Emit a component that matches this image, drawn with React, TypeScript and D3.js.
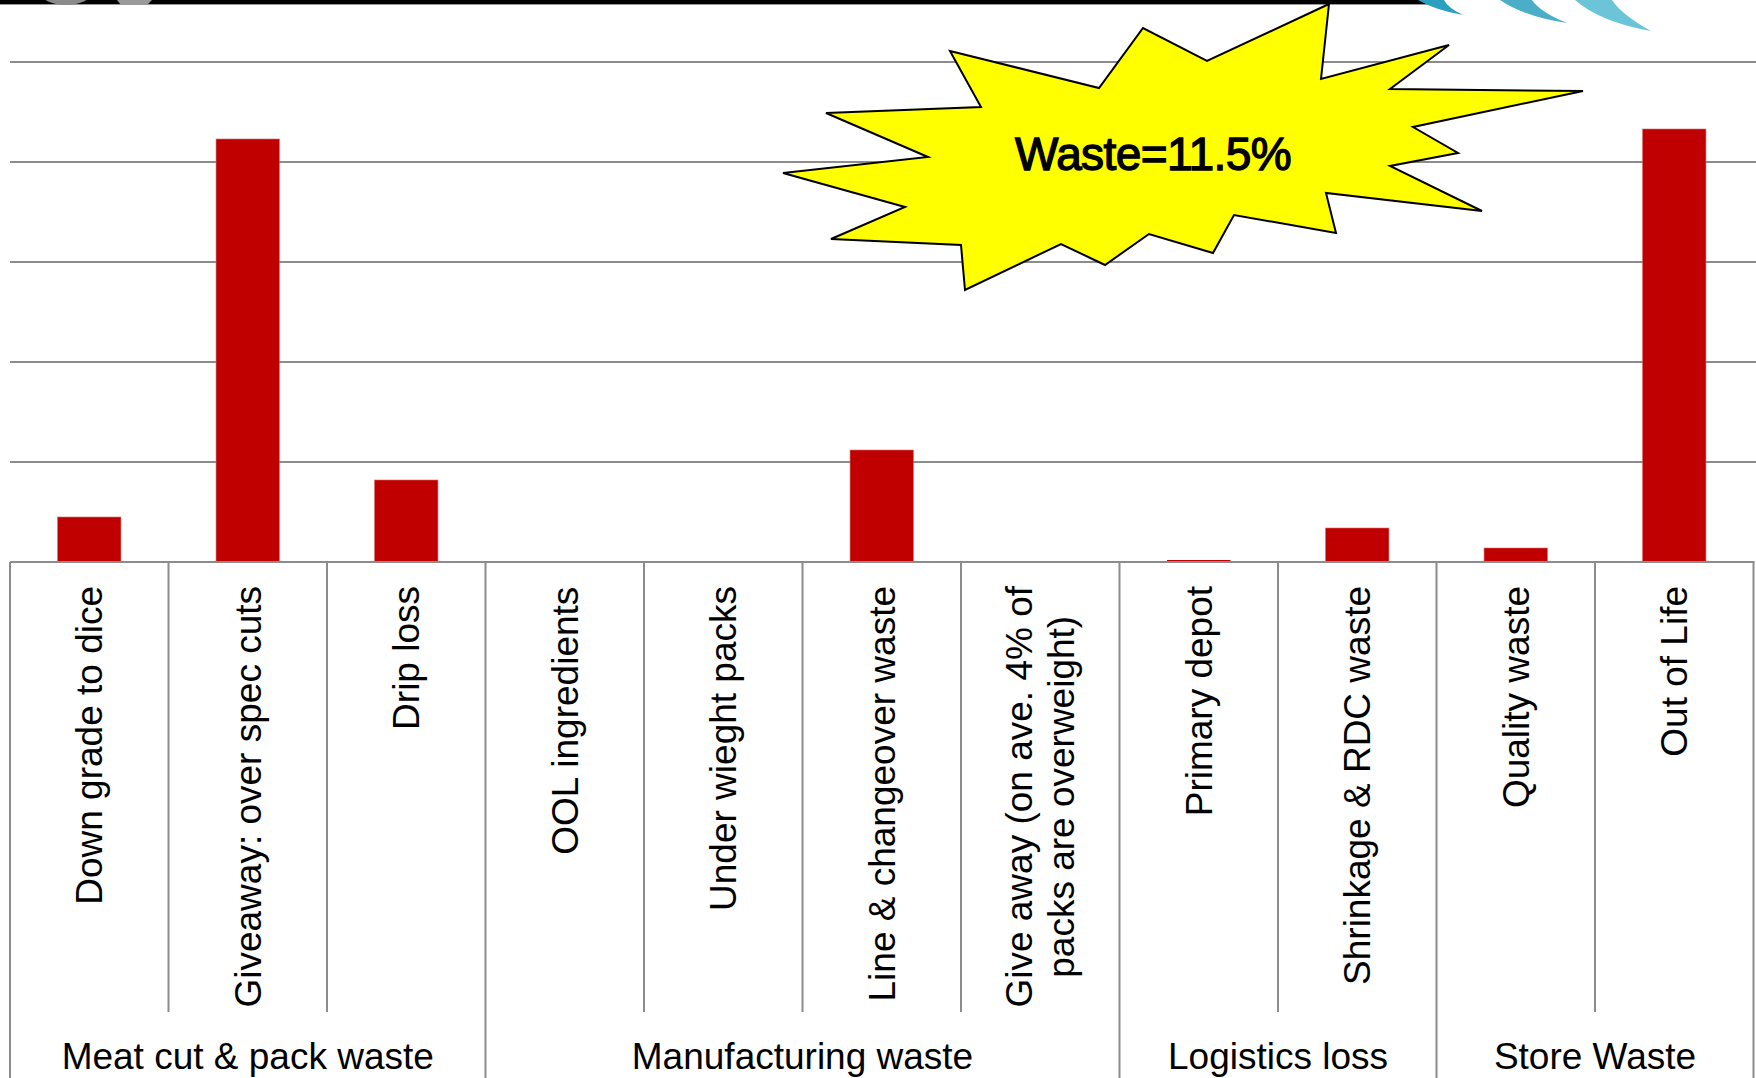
import React, { useMemo } from "react";
import * as d3 from "d3";

// Waste share (% of product) by loss point along the chain
const categories = [
  "Down grade to dice",
  "Giveaway: over spec cuts",
  "Drip loss",
  "OOL ingredients",
  "Under wieght packs",
  "Line & changeover waste",
  "Give away (on ave. 4% of\npacks are overweight)",
  "Primary depot",
  "Shrinkage & RDC waste",
  "Quality waste",
  "Out of Life",
];
const wastePct = [0.45, 4.23, 0.82, 0.01, 0, 1.12, 0, 0.02, 0.34, 0.14, 4.33];

const groupNames = ["Meat cut & pack waste", "Manufacturing waste", "Logistics loss", "Store Waste"];
const groupSizes = [3, 4, 2, 2];

const gridValues = [1, 2, 3, 4, 5];

// Callout burst outline
const burstPoints: [number, number][] = [
  [950, 51], [1099, 88], [1143, 28], [1207, 61], [1329, 4], [1321, 79],
  [1449, 45], [1390, 89], [1583, 91], [1413, 127], [1458, 153], [1390, 166],
  [1482, 211], [1326, 193], [1336, 233], [1234, 215], [1213, 253], [1149, 234],
  [1105, 265], [1061, 244], [965, 290], [961, 245], [831, 239], [905, 207],
  [783, 173], [928, 157], [826, 113], [981, 107],
];

const W = 1756;
const H = 1078;
const FONT = "'Liberation Sans', Arial, sans-serif";
const LABEL_SIZE = 37;

export default function App() {
  const left = 10;
  const right = 1753.5;
  const baseY = 562;

  const x = d3
    .scaleBand<string>()
    .domain(categories)
    .range([left, right])
    .paddingInner(0.6)
    .paddingOuter(0.3);
  const step = (right - left) / categories.length;
  const y = d3.scaleLinear().domain([0, 5]).range([baseY, 62]);

  const total = d3.sum(wastePct);

  const measure = useMemo(() => {
    const ctx = document.createElement("canvas").getContext("2d")!;
    ctx.font = `${LABEL_SIZE}px ${FONT}`;
    return (s: string) => ctx.measureText(s).width;
  }, []);

  // Group boundaries in category index units
  const groupStarts: number[] = [];
  groupSizes.reduce((acc, n) => {
    groupStarts.push(acc);
    return acc + n;
  }, 0);
  const groupBoundaryIdx = new Set<number>([...groupStarts, categories.length]);

  const catCenter = (i: number) => left + step * (i + 0.5);
  const burstPath = d3.line()(burstPoints)! + "Z";

  return (
    <svg
      width={W}
      height={H}
      style={{ position: "absolute", left: 0, top: 0, background: "#fff" }}
      fontFamily={FONT}
    >
      {/* header strip */}
      <rect x={0} y={0} width={1440} height={4} fill="#000" />
      <line x1={0} x2={1440} y1={4.5} y2={4.5} stroke="#999" strokeWidth={1} />
      <ellipse cx={66} cy={-8} rx={26} ry={13} fill="#8a8a8a" />
      <path d="M117,0 L152,0 L147,5 L121,5 Z" fill="#9a9a9a" />
      <path d="M1418,0 Q1435,10 1463,15 Q1448,8 1444,0 Z" fill="#2a9fbf" />
      <path d="M1500,0 Q1525,17 1567,23 Q1540,12 1532,0 Z" fill="#4aaec8" />
      <path d="M1575,0 Q1600,22 1651,31 Q1622,15 1612,0 Z" fill="#6cc4d8" />

      {/* gridlines */}
      {gridValues.map((v) => (
        <line key={v} x1={left} x2={W} y1={y(v)} y2={y(v)} stroke="#8c8c8c" strokeWidth={2} />
      ))}

      {/* bars */}
      {categories.map((c, i) => (
        <rect
          key={c}
          x={x(c)}
          y={y(wastePct[i])}
          width={x.bandwidth()}
          height={baseY - y(wastePct[i])}
          fill="#c00000"
          stroke="#d96a6a"
          strokeWidth={wastePct[i] > 0.05 ? 0.6 : 0}
        />
      ))}

      {/* axis line */}
      <line x1={left} x2={right + 1} y1={baseY} y2={baseY} stroke="#8c8c8c" strokeWidth={2} />

      {/* category separators */}
      {d3.range(categories.length + 1).map((i) => {
        const bx = left + step * i;
        const isGroup = groupBoundaryIdx.has(i);
        return (
          <line
            key={i}
            x1={bx}
            x2={bx}
            y1={baseY}
            y2={isGroup ? H : 1012}
            stroke="#8c8c8c"
            strokeWidth={2}
          />
        );
      })}

      {/* rotated category labels */}
      {categories.map((c, i) => {
        const lines = c.split("\n");
        const maxLen = d3.max(lines, (l) => measure(l)) ?? 0;
        const lh = LABEL_SIZE * 1.15;
        return (
          <text
            key={c}
            transform={`translate(${catCenter(i)},586) rotate(-90)`}
            fontSize={LABEL_SIZE}
            textAnchor="middle"
            fill="#000"
          >
            {lines.map((l, j) => (
              <tspan
                key={j}
                x={-maxLen / 2}
                y={(j - (lines.length - 1) / 2) * lh}
                dy="0.35em"
              >
                {l}
              </tspan>
            ))}
          </text>
        );
      })}

      {/* group labels */}
      {groupNames.map((g, k) => {
        const s = groupStarts[k];
        const cx = left + step * (s + groupSizes[k] / 2);
        return (
          <text key={g} x={cx} y={1069} fontSize={LABEL_SIZE} textAnchor="middle" fill="#000">
            {g}
          </text>
        );
      })}

      {/* total waste callout */}
      <path d={burstPath} fill="#ffff00" stroke="#000" strokeWidth={2} strokeLinejoin="miter" />
      <text
        x={1153}
        y={170}
        fontSize={46}
        letterSpacing={-0.6}
        textAnchor="middle"
        fill="#000"
        stroke="#000"
        strokeWidth={1.3}
      >
        {`Waste=${d3.format(".1f")(total)}%`}
      </text>
    </svg>
  );
}
